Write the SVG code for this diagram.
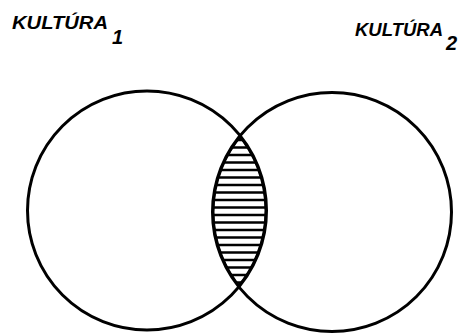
<svg xmlns="http://www.w3.org/2000/svg" width="460" height="333" viewBox="0 0 460 333">
<style>
.lbl{font-family:"Liberation Sans",Arial,sans-serif;font-weight:bold;font-style:italic;fill:#000}
.ring{fill:none;stroke:#000;stroke-width:3}
.hatch{stroke:#000;stroke-width:2.3}
</style>
<defs>
<clipPath id="c1"><circle cx="147" cy="210.5" r="119.5"/></clipPath>
<clipPath id="c2"><circle cx="332" cy="212" r="119.5"/></clipPath>
</defs>
<rect width="460" height="333" fill="#fff"/>
<g id="labels">
<text class="lbl" x="12" y="28.5" font-size="19" textLength="96" lengthAdjust="spacingAndGlyphs">KULTÚRA</text>
<text class="lbl" x="112" y="44" font-size="20">1</text>
<text class="lbl" x="355" y="35.5" font-size="19" textLength="88" lengthAdjust="spacingAndGlyphs">KULTÚRA</text>
<text class="lbl" x="446" y="50" font-size="20">2</text>
</g>
<g id="intersection">
<g clip-path="url(#c1)"><g clip-path="url(#c2)">
<g class="hatch">
<line x1="200" y1="140" x2="280" y2="140"/>
<line x1="200" y1="147.5" x2="280" y2="147.5"/>
<line x1="200" y1="155" x2="280" y2="155"/>
<line x1="200" y1="162.5" x2="280" y2="162.5"/>
<line x1="200" y1="170" x2="280" y2="170"/>
<line x1="200" y1="177.5" x2="280" y2="177.5"/>
<line x1="200" y1="185" x2="280" y2="185"/>
<line x1="200" y1="192.5" x2="280" y2="192.5"/>
<line x1="200" y1="200" x2="280" y2="200"/>
<line x1="200" y1="207.5" x2="280" y2="207.5"/>
<line x1="200" y1="215" x2="280" y2="215"/>
<line x1="200" y1="222.5" x2="280" y2="222.5"/>
<line x1="200" y1="230" x2="280" y2="230"/>
<line x1="200" y1="237.5" x2="280" y2="237.5"/>
<line x1="200" y1="245" x2="280" y2="245"/>
<line x1="200" y1="252.5" x2="280" y2="252.5"/>
<line x1="200" y1="260" x2="280" y2="260"/>
<line x1="200" y1="267.5" x2="280" y2="267.5"/>
<line x1="200" y1="275" x2="280" y2="275"/>
<line x1="200" y1="282.5" x2="280" y2="282.5"/>
</g>
<circle cx="147" cy="210.5" r="119.5" fill="none" stroke="#000" stroke-width="4"/>
<circle cx="332" cy="212" r="119.5" fill="none" stroke="#000" stroke-width="4"/>
</g></g>
</g>
<g id="culture1"><circle class="ring" cx="147" cy="210.5" r="119.5"/></g>
<g id="culture2"><circle class="ring" cx="332" cy="212" r="119.5"/></g>
</svg>
